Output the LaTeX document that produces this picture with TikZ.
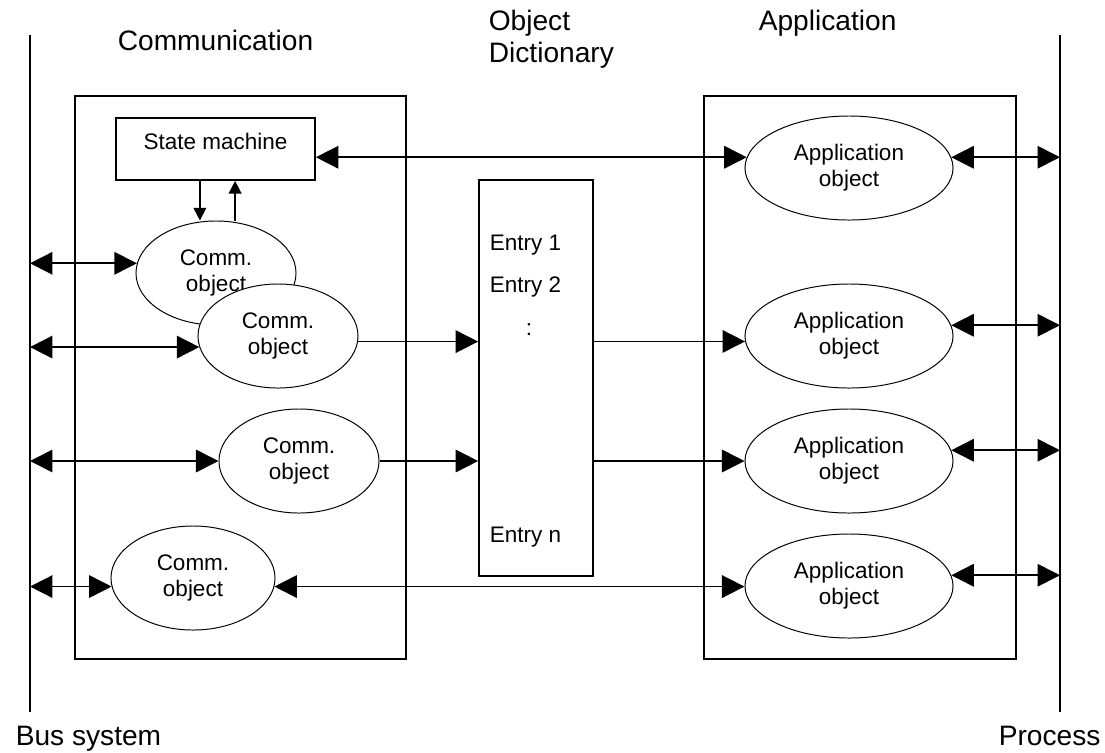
\documentclass[tikz,border=0pt]{standalone}
\usepackage{fontspec}
\setmainfont{Liberation Sans}
\usetikzlibrary{arrows.meta,positioning,shapes.geometric}

\begin{document}
\begin{tikzpicture}[x=0.025cm, y=-0.025cm, line width=1.2pt, >={Triangle[length=16pt,width=16pt]},
	small/.style={>={Triangle[length=9pt,width=9pt]}},
	txt/.style={font=\fontsize{16}{18.5}\selectfont, align=center},
	head/.style={anchor=base west, inner sep=0pt, align=left, font=\fontsize{20}{22.75}\selectfont},
	obj/.style={txt, ellipse, draw, line width=0.7pt, fill=white, inner sep=0pt},
	comm/.style={obj, minimum width=4cm, minimum height=2.6cm},
	app/.style={obj, minimum width=5.2cm, minimum height=2.6cm},
	entry/.style={txt, anchor=west, inner sep=0pt}]
	\useasboundingbox (0,0) rectangle (1105,752);
	
	\coordinate (bus1) at (30,35);
	\coordinate (bus2) at (30,712);
	\coordinate (proc1) at (1060,35);
	\coordinate (proc2) at (1060,712);
	\draw (bus1) -- (bus2);
	\draw (proc1) -- (proc2);
	
	\node[head] (hcomm) at (117,50) {Communication};
	\node[head] (hod) at (488,62) {Object\\Dictionary};
	\node[head] (happ) at (758,30) {Application};
	\node[head] (hbus) at (15,745) {Bus system};
	\node[head] (hproc) at (998,745) {Process};
	
	\draw (75,96) rectangle (406,659);
	\draw (704,96) rectangle (1016,659);
	
	\node[txt, draw, text depth=0.38cm, minimum width=4.975cm, minimum height=1.55cm] (SM) at (215.5,149) {State machine};
	\node[comm] (C1) at (216,273) {Comm.\\object};
	\node[comm] (C2) at (278,336) {Comm.\\object};
	\node[comm] (C3) at (299,461) {Comm.\\object};
	\node[comm, minimum width=4.1cm] (C4) at (193,578) {Comm.\\object};
	
	\node[draw, minimum width=2.85cm, minimum height=9.9cm] (OD) at (536,378) {};
	\node[entry] (E1) at (489,245) {Entry 1};
	\node[entry, on grid, below=1.05cm of E1] (E2) {Entry 2};
	\node[txt, inner sep=0pt] (Edots) at (529,330) {:};
	\node[entry] (En) at (489,537) {Entry n};
	
	\node[app] (A1) at (849,168) {Application\\object};
	\node[app] (A2) at (849,336) {Application\\object};
	\node[app] (A3) at (849,461) {Application\\object};
	\node[app] (A4) at (849,586) {Application\\object};
	
	\draw[->, small] ([xshift=-0.39cm]SM.south) -- ([xshift=-0.39cm]SM.south |- C1.north);
	\draw[->, small] ([xshift=0.49cm]SM.south |- C1.north) -- ([xshift=0.49cm]SM.south);
	
	\draw[<->] (C1.173 -| bus1) -- (C1.173);
	\draw[<->] (C2.188 -| bus1) -- (C2.188);
	\draw[<->] (C3.west -| bus1) -- (C3.west);
	\draw[<->] (C4.186 -| bus1) -- (C4.186);
	
	\draw[->] (C2.356) -- (C2.356 -| OD.west);
	\draw[->] (C3.east) -- (C3.east -| OD.west);
	\draw[->] (OD.east |- A2.183) -- (A2.183);
	\draw[->] (OD.east |- A3.west) -- (A3.west);
	\draw[<->] (SM.east |- A1.174) -- (A1.174);
	\draw[<->] (C4.354) -- (C4.354 -| A4.west);
	
	\draw[<->] (A1.6) -- (A1.6 -| proc1);
	\draw[<->] (A2.6) -- (A2.6 -| proc1);
	\draw[<->] (A3.6) -- (A3.6 -| proc1);
	\draw[<->] (A4.6) -- (A4.6 -| proc1);
\end{tikzpicture}
\end{document}
